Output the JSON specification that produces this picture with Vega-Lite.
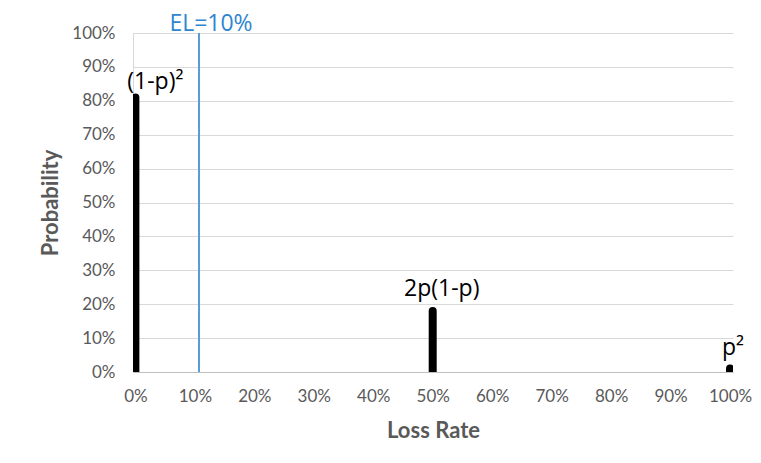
{
  "$schema": "https://vega.github.io/schema/vega-lite/v6.json",
  "autosize": {"type": "none"},
  "padding": {"left": 133, "top": 33, "right": 28, "bottom": 91},
  "width": 600,
  "height": 339,
  "background": "white",
  "config": {
    "view": {"stroke": null},
    "font": "Lato",
    "axis": {
      "labelFont": "Lato",
      "titleFont": "Lato",
      "labelColor": "#595959",
      "titleColor": "#595959",
      "labelFontSize": 17,
      "titleFontSize": 22,
      "titleFontWeight": "bold",
      "domainColor": "#bfbfbf",
      "gridColor": "#d9d9d9",
      "ticks": false,
      "labelOverlap": false,
      "labelFlush": false
    }
  },
  "data": {
    "values": [
      {"loss": 0, "prob": 0.81, "label": "(1-p)²"},
      {"loss": 0.5, "prob": 0.18, "label": "2p(1-p)"},
      {"loss": 1, "prob": 0.01, "label": "p²"}
    ]
  },
  "encoding": {
    "x": {
      "field": "loss", "type": "quantitative",
      "scale": {"domain": [-0.004, 1.005], "nice": false, "zero": false},
      "axis": {"title": "Loss Rate", "format": ".0%", "values": [0, 0.1, 0.2, 0.3, 0.4, 0.5, 0.6, 0.7, 0.8, 0.9, 1], "grid": false, "labelPadding": 16, "titlePadding": 16, "domainColor": "#bfbfbf"}
    },
    "y": {
      "field": "prob", "type": "quantitative",
      "scale": {"domain": [0, 1], "nice": false},
      "axis": {"title": "Probability", "format": ".0%", "values": [0, 0.1, 0.2, 0.3, 0.4, 0.5, 0.6, 0.7, 0.8, 0.9, 1], "labelPadding": 18, "titlePadding": 9, "domainColor": "#d9d9d9"}
    }
  },
  "layer": [
    {
      "mark": {"type": "rule", "color": "black", "strokeWidth": 8, "strokeCap": "round", "clip": true},
      "encoding": {
        "y2": {"datum": 0}
      }
    },
    {
      "transform": [{"filter": "datum.loss == 0"}],
      "mark": {"type": "text", "fontSize": 23, "font": "Open Sans", "color": "black", "align": "center", "baseline": "alphabetic", "dx": 20, "dy": -8},
      "encoding": {"text": {"field": "label"}}
    },
    {
      "transform": [{"filter": "datum.loss == 0.5"}],
      "mark": {"type": "text", "fontSize": 23, "font": "Open Sans", "color": "black", "align": "center", "baseline": "alphabetic", "dx": 9, "dy": -15},
      "encoding": {"text": {"field": "label"}}
    },
    {
      "transform": [{"filter": "datum.loss == 1"}],
      "mark": {"type": "text", "fontSize": 23, "font": "Open Sans", "color": "black", "align": "center", "baseline": "alphabetic", "dx": 3, "dy": -14},
      "encoding": {"text": {"field": "label"}}
    },
    {
      "data": {"values": [{"el": 0.107, "name": "EL=10%"}]},
      "layer": [
        {
          "mark": {"type": "rule", "color": "#5b9bd5", "strokeWidth": 2},
          "encoding": {
            "x": {"field": "el", "type": "quantitative"},
            "y": null
          }
        },
        {
          "mark": {"type": "text", "color": "#2e86d0", "fontSize": 23, "font": "Open Sans", "align": "center", "baseline": "alphabetic", "dx": 12, "dy": -2, "y": 0},
          "encoding": {
            "x": {"field": "el", "type": "quantitative"},
            "y": null,
            "text": {"field": "name"}
          }
        }
      ]
    }
  ]
}
